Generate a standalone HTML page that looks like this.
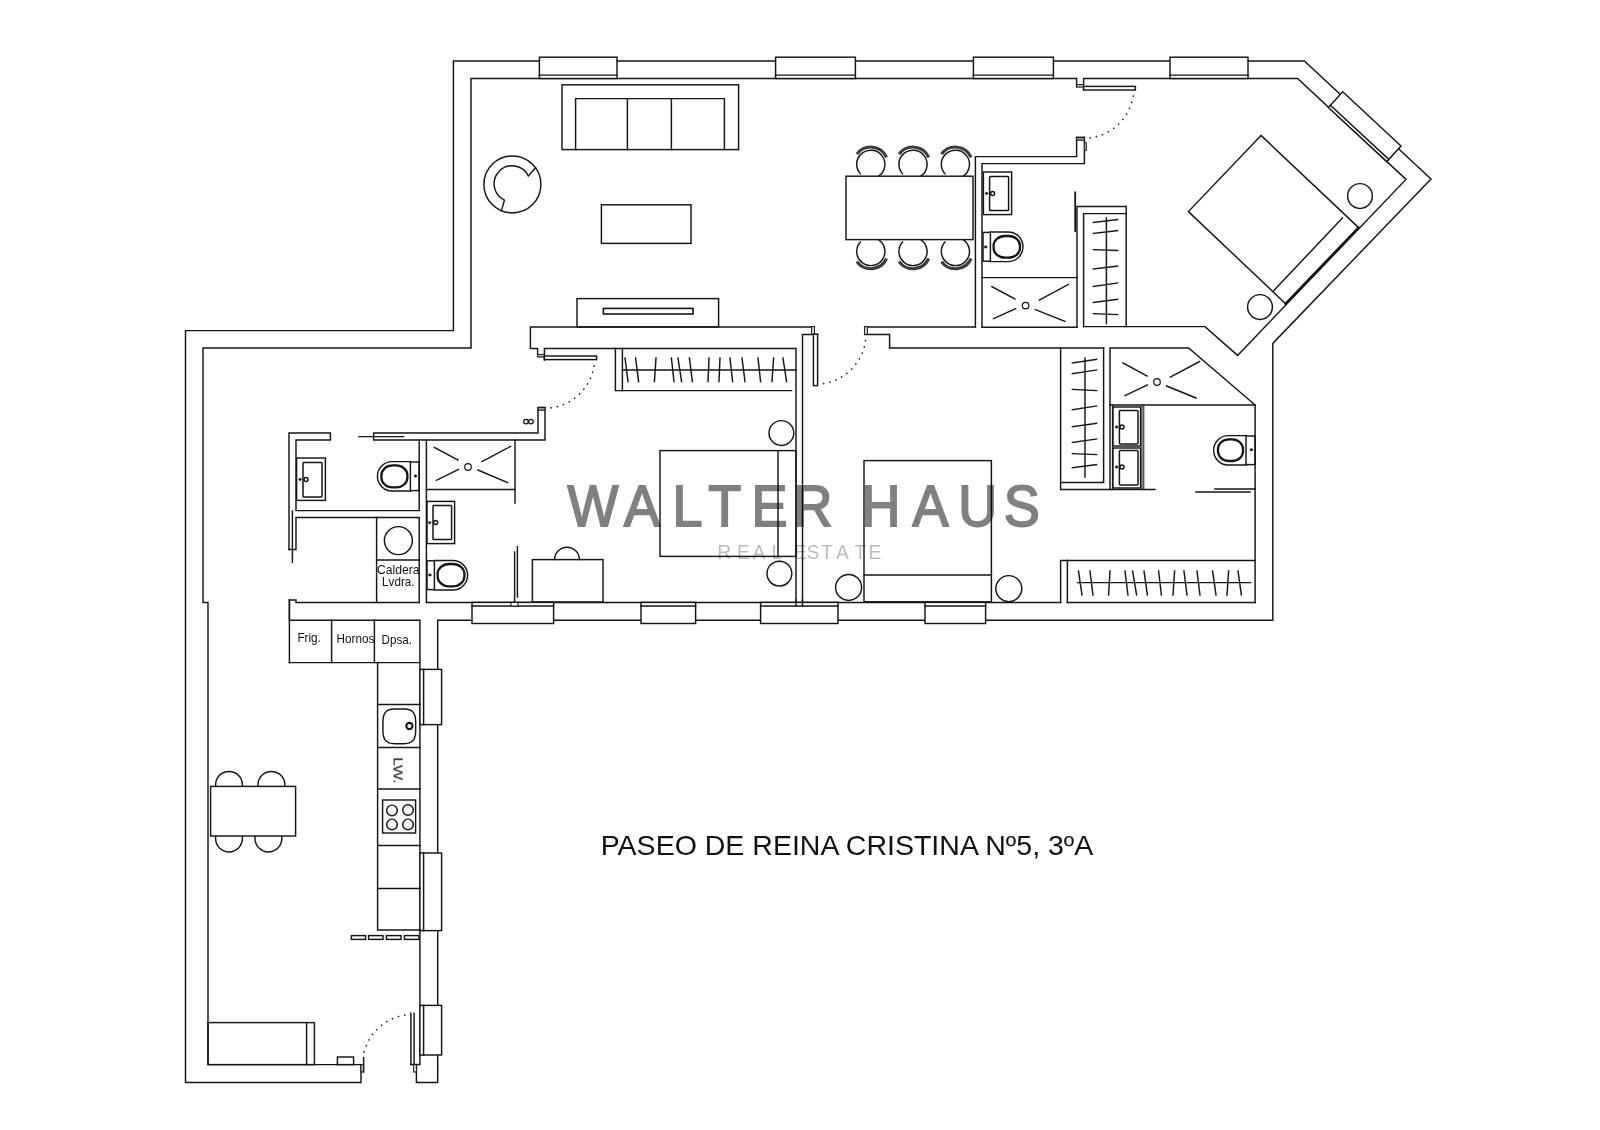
<!DOCTYPE html>
<html lang="es"><head><meta charset="utf-8"><title>Paseo de Reina Cristina Nº5, 3ºA</title>
<style>
html,body{margin:0;padding:0;background:#fff;}
body{width:1600px;height:1130px;overflow:hidden;}
svg{display:block}
svg *{vector-effect:none}
#plan line,#plan path,#plan rect,#plan circle{stroke:#151515;stroke-width:1.45;fill:none;stroke-linecap:square}
#plan [fill]{}
.dots{stroke-dasharray:0.1 6.32;stroke-linecap:round !important;stroke:#2a2a2a !important}
.b{stroke-linecap:butt !important}
.t{opacity:.999;will-change:opacity}
.bb{stroke:#3c3c3c !important}
.t text{font-family:"Liberation Sans",sans-serif;fill:#111;stroke:none}
.wm1{font-family:"Liberation Sans",sans-serif;fill:#000;stroke:#000;stroke-linejoin:miter}
.wm2{font-family:"Liberation Sans",sans-serif;fill:#000}
</style></head><body>
<svg id="plan" width="1600" height="1130" viewBox="0 0 1600 1130">
<rect x="0" y="0" width="1600" height="1130" style="fill:#fff;stroke:none"/>
<g id="walls">
<path d="M361 1064.6 L361 1082.4 L185.5 1082.4 L185.5 330.6 L453.4 330.6 L453.4 61 L1304.4 61 L1431 179 L1272.8 343.4 L1272.8 620.2 L437.7 620.2 L437.7 1082.4 L416.4 1082.4 L416.4 1064.6"/>
<path d="M361 1064.6 L208 1064.6 L208 602.4 L203 602.4 L203 348 L471 348 L471 78.5 L1076.6 78.5 L1076.6 86.4 L1083.6 86.4"/>
<path d="M1083.6 90 L1083.6 78.5 L1297.6 78.5 L1406 179.4 L1237.6 355.4 L1205 326.6 L1083.6 326.6"/>
<path d="M410.9 1064.5 L419.9 1064.5 L419.9 620.2 L289.4 620.2 L289.4 600 L296 600 L296 602.4 L419.2 602.4"/>
<line x1="426.4" y1="602.4" x2="1060.6" y2="602.4"/>
<line x1="1067.4" y1="602.4" x2="1255.1" y2="602.4"/>
</g>
<g id="partitions">
<path d="M1076.6 137.4 L1076.6 156.6 L975.4 156.6 L975.4 327.2"/>
<path d="M1084.4 137.4 L1084.4 163.6 L982 163.6 L982 327.2"/>
<line x1="1076.6" y1="137.4" x2="1084.4" y2="137.4"/>
<rect x="1076.6" y="137.4" width="7.8" height="2.8" style="fill:#999;stroke-width:1;"/>
<rect x="1084.4" y="142.6" width="2.2" height="8.0" style="fill:#aaa;stroke-width:0.8;"/>
<rect x="1076.6" y="84.6" width="7.0" height="2.4" style="fill:#ccc;stroke-width:1;"/>
<rect x="1083.6" y="86.4" width="51.8" height="3.6" style="fill:#fff;"/>
<line x1="864.6" y1="327" x2="975.4" y2="327"/>
<line x1="982" y1="327.2" x2="1077" y2="327.2"/>
<line x1="982" y1="277.6" x2="1077" y2="277.6"/>
<path d="M1077 327.2 L1077 206.4 L1126.2 206.4 L1126.2 326.6"/>
<path d="M1083.6 326.6 L1083.6 213.6 L1126.2 213.6"/>
<line x1="1075.2" y1="192.4" x2="1075.2" y2="231" style="stroke-width:1.8"/>
<path d="M864.6 334.4 L889.6 334.4 L889.6 348 L1103.6 348"/>
<rect x="864.6" y="326.6" width="2.8" height="7.8" style="fill:#ddd;stroke-width:1;"/>
<path d="M1060.6 348 L1060.6 489.4 L1155 489.4"/>
<path d="M1103.6 348 L1103.6 482.4 L1060.6 482.4"/>
<path d="M1110 489.4 L1110 348 L1188.6 348 L1255.1 405 L1255.1 602.4"/>
<line x1="1110" y1="405" x2="1255.1" y2="405"/>
<line x1="1112.4" y1="405" x2="1112.4" y2="489.4" style="stroke-width:1"/>
<line x1="1142" y1="405" x2="1142" y2="489.4" style="stroke-width:1"/>
<line x1="1143.8" y1="405" x2="1143.8" y2="489.4" style="stroke-width:1"/>
<line x1="1196" y1="492" x2="1250" y2="492"/>
<line x1="1215" y1="489" x2="1255.1" y2="489"/>
<path d="M1060.6 602.4 L1060.6 560.4 L1255.1 560.4"/>
<line x1="1067.4" y1="560.4" x2="1067.4" y2="602.4"/>
<path d="M544.4 356.6 L537.6 356.6 L537.6 348.4 L530.4 348.4 L530.4 327 L814.4 327"/>
<path d="M544.4 360 L544.4 348.4 L796 348.4 L796 606"/>
<rect x="537.6" y="354.4" width="6.8" height="2.4" style="fill:#ccc;stroke-width:1;"/>
<rect x="544.4" y="356" width="52.2" height="3.6" style="fill:#fff;"/>
<path d="M817.6 334.4 L802.5 334.4 L802.5 606"/>
<rect x="811.6" y="326.6" width="2.8" height="7.6" style="fill:#ddd;stroke-width:1;"/>
<rect x="813.4" y="334.2" width="4.2" height="51.4" style="fill:#fff;"/>
<path d="M538 407.4 L538 433 L373.6 433 L373.6 440 L545 440 L545 407.4 L538 407.4"/>
<rect x="538" y="407.4" width="7" height="2.8" style="fill:#999;stroke-width:1;"/>
<path d="M289 549.4 L289 433 L330.4 433 L330.4 440 L296 440 L296 510.6 L419.2 510.6 L419.2 440"/>
<path d="M289 549.4 L296 549.4 L296 517.4 L419.2 517.4 L419.2 602.4"/>
<line x1="292.4" y1="511" x2="292.4" y2="562.4"/>
<line x1="426.4" y1="440" x2="426.4" y2="602.4"/>
<line x1="359" y1="436.6" x2="403.6" y2="436.6"/>
<line x1="376.6" y1="517.4" x2="376.6" y2="602.4"/>
<line x1="376.6" y1="560" x2="419.2" y2="560"/>
<circle cx="398.4" cy="540.6" r="14"/>
<path d="M426.4 489.4 L515 489.4"/>
<line x1="515" y1="440" x2="515" y2="503"/>
<circle cx="526" cy="421.6" r="2.3" style="stroke-width:1.3;"/>
<circle cx="530.9" cy="421.6" r="2.3" style="stroke-width:1.3;"/>
<line x1="514.6" y1="552" x2="514.6" y2="602.4"/>
<line x1="517.4" y1="546.6" x2="517.4" y2="597"/>
</g>
<g id="windows">
<rect x="539.4" y="57.2" width="77.6" height="21.3" style="fill:#fff;"/>
<line x1="539.4" y1="75.1" x2="617" y2="75.1"/>
<rect x="775.6" y="57.2" width="79.8" height="21.3" style="fill:#fff;"/>
<line x1="775.6" y1="75.1" x2="855.4" y2="75.1"/>
<rect x="973.4" y="57.2" width="80.0" height="21.3" style="fill:#fff;"/>
<line x1="973.4" y1="75.1" x2="1053.4" y2="75.1"/>
<rect x="1170" y="57.2" width="78" height="21.3" style="fill:#fff;"/>
<line x1="1170" y1="75.1" x2="1248" y2="75.1"/>
<rect x="472" y="602.4" width="81.6" height="21.1" style="fill:#fff;"/>
<line x1="472" y1="605.9" x2="553.6" y2="605.9"/>
<rect x="641" y="602.4" width="54.6" height="21.1" style="fill:#fff;"/>
<line x1="641" y1="605.9" x2="695.6" y2="605.9"/>
<rect x="760.6" y="602.4" width="77.4" height="21.1" style="fill:#fff;"/>
<line x1="760.6" y1="605.9" x2="838" y2="605.9"/>
<rect x="925" y="602.4" width="60.6" height="21.1" style="fill:#fff;"/>
<line x1="925" y1="605.9" x2="985.6" y2="605.9"/>
<rect x="419.9" y="669.4" width="21.7" height="55.2" style="fill:#fff;"/>
<line x1="423.6" y1="669.4" x2="423.6" y2="724.6"/>
<rect x="419.9" y="853" width="21.7" height="77.6" style="fill:#fff;"/>
<line x1="423.6" y1="853" x2="423.6" y2="930.6"/>
<rect x="419.9" y="1005.4" width="21.7" height="49.6" style="fill:#fff;"/>
<line x1="423.6" y1="1005.4" x2="423.6" y2="1055"/>
<path d="M1342.7 91.7 L1401 146 L1386.8 161.6 L1328.4 107.5 Z" style="fill:#fff;"/>
<line x1="1330.4" y1="105.3" x2="1388.8" y2="159.4"/>
</g>
<g>
<line x1="796" y1="600" x2="796" y2="606"/>
<line x1="802.5" y1="600" x2="802.5" y2="606"/>
<rect x="511" y="602.4" width="7" height="3.6" style="fill:#fff;stroke-width:1;"/>
</g>
<g id="fixtures">
<rect x="983.4" y="172" width="28.2" height="42.6"/>
<rect x="989.6" y="176.6" width="19.0" height="34.0" rx="0.9" style="stroke-width:1.5"/>
<circle cx="986.6" cy="193.4" r="1.2" style="fill:#111;stroke-width:0.5;"/>
<circle cx="992.6" cy="193.4" r="2.0" style="stroke-width:1.5;"/>
<rect x="983" y="232.4" width="7.4" height="28.8"/>
<path d="M990.4 232 L1008.2 232 A14.800000000000011 14.800000000000011 0 0 1 1008.2 261.6 L990.4 261.6"/>
<rect x="993.6" y="236" width="26.4" height="21.6" rx="11.35" ry="9.72" style="stroke-width:2.3"/>
<circle cx="985.6" cy="247" r="1.25" style="fill:#111;stroke-width:0.5;"/>
<circle cx="1025.6" cy="305.6" r="3.3" style="stroke-width:1.2;"/>
<line x1="992" y1="286.6" x2="1015" y2="299"/>
<line x1="1068.4" y1="284.4" x2="1039.4" y2="300"/>
<line x1="993.6" y1="318.6" x2="1015.6" y2="308.6"/>
<line x1="1065" y1="321.4" x2="1035.4" y2="309.6"/>
<circle cx="1157" cy="382" r="3.3" style="stroke-width:1.2;"/>
<line x1="1123" y1="363" x2="1147" y2="376"/>
<line x1="1199.6" y1="361.6" x2="1170.4" y2="377"/>
<line x1="1125" y1="395.6" x2="1147.4" y2="385"/>
<line x1="1196" y1="398" x2="1166.6" y2="386"/>
<rect x="1113" y="407" width="27.6" height="39"/>
<rect x="1119.4" y="410.6" width="18.6" height="33.4" rx="0.9" style="stroke-width:1.5"/>
<circle cx="1116.6" cy="427" r="1.2" style="fill:#111;stroke-width:0.5;"/>
<circle cx="1122" cy="427" r="2.0" style="stroke-width:1.5;"/>
<rect x="1113" y="448" width="27.6" height="40"/>
<rect x="1119.4" y="450.6" width="18.6" height="34.4" rx="0.9" style="stroke-width:1.5"/>
<circle cx="1116.6" cy="467" r="1.2" style="fill:#111;stroke-width:0.5;"/>
<circle cx="1122" cy="467" r="2.0" style="stroke-width:1.5;"/>
<rect x="1246" y="436.0" width="9.1" height="28.6"/>
<path d="M1246 435.6 L1228.3 435.6 A14.699999999999989 14.699999999999989 0 0 0 1228.3 465 L1246 465"/>
<rect x="1218" y="439.4" width="25" height="21.6" rx="10.75" ry="9.72" style="stroke-width:2.3"/>
<circle cx="1251.4" cy="449.8" r="1.25" style="fill:#111;stroke-width:0.5;"/>
<rect x="296.6" y="458" width="28.8" height="42.4"/>
<rect x="303" y="462.4" width="19" height="34.6" rx="0.9" style="stroke-width:1.5"/>
<circle cx="300" cy="479.4" r="1.2" style="fill:#111;stroke-width:0.5;"/>
<circle cx="306" cy="479.4" r="2.0" style="stroke-width:1.5;"/>
<rect x="410.4" y="462.0" width="8.8" height="28.6"/>
<path d="M410.4 461.6 L392.09999999999997 461.6 A14.699999999999989 14.699999999999989 0 0 0 392.09999999999997 491 L410.4 491"/>
<rect x="381.4" y="465.4" width="26.0" height="22.0" rx="11.18" ry="9.9" style="stroke-width:2.3"/>
<circle cx="415.4" cy="476" r="1.25" style="fill:#111;stroke-width:0.5;"/>
<circle cx="468" cy="467" r="3.3" style="stroke-width:1.2;"/>
<line x1="434.4" y1="447.4" x2="458" y2="460"/>
<line x1="510.6" y1="446.4" x2="482" y2="461.6"/>
<line x1="436.4" y1="480.4" x2="458.4" y2="469.4"/>
<line x1="507.6" y1="482.6" x2="478" y2="470"/>
<rect x="427" y="501.4" width="27.6" height="42.2"/>
<rect x="433" y="505.6" width="18.6" height="34.0" rx="0.9" style="stroke-width:1.5"/>
<circle cx="429.6" cy="522.6" r="1.2" style="fill:#111;stroke-width:0.5;"/>
<circle cx="435.6" cy="522.6" r="2.0" style="stroke-width:1.5;"/>
<rect x="427" y="560.8" width="7.4" height="28.8"/>
<path d="M434.4 560.4 L452.8 560.4 A14.800000000000011 14.800000000000011 0 0 1 452.8 590 L434.4 590"/>
<rect x="437.6" y="564" width="26.8" height="22.4" rx="11.52" ry="10.08" style="stroke-width:2.3"/>
<circle cx="429.8" cy="575" r="1.25" style="fill:#111;stroke-width:0.5;"/>
</g>
<g id="closets">
<line x1="1106.4" y1="218" x2="1106.4" y2="323.6"/>
<line x1="1093.4" y1="222.4" x2="1117.6" y2="219.6"/>
<line x1="1093.4" y1="233.4" x2="1117.6" y2="230.6"/>
<line x1="1093.4" y1="249.6" x2="1117.6" y2="250.4"/>
<line x1="1093.4" y1="269" x2="1117.6" y2="266"/>
<line x1="1093.4" y1="286.4" x2="1117.6" y2="283"/>
<line x1="1093.4" y1="302.4" x2="1117.6" y2="299.4"/>
<line x1="1093.4" y1="313.6" x2="1117.6" y2="314.6"/>
<line x1="1085" y1="358" x2="1085" y2="477"/>
<line x1="1072.4" y1="363" x2="1096.6" y2="359.4"/>
<line x1="1072.4" y1="373.6" x2="1096.6" y2="370"/>
<line x1="1072.4" y1="389.4" x2="1096.6" y2="390.6"/>
<line x1="1072.4" y1="409.6" x2="1096.6" y2="406"/>
<line x1="1072.4" y1="426.6" x2="1096.6" y2="423.4"/>
<line x1="1072.4" y1="442.4" x2="1096.6" y2="439"/>
<line x1="1072.4" y1="453.6" x2="1096.6" y2="454.6"/>
<line x1="1072.4" y1="467.6" x2="1096.6" y2="464.6"/>
<path d="M615.4 348.4 L615.4 390.6 L791.6 390.6"/>
<line x1="622.4" y1="348.4" x2="622.4" y2="390.6"/>
<line x1="622.4" y1="370" x2="796" y2="370"/>
<line x1="625" y1="358" x2="628" y2="381.6"/>
<line x1="635.6" y1="358" x2="638.6" y2="381.6"/>
<line x1="656" y1="358" x2="654.4" y2="381.6"/>
<line x1="671.4" y1="358" x2="674" y2="381.6"/>
<line x1="678" y1="358" x2="681.6" y2="381.6"/>
<line x1="689.4" y1="358" x2="692.4" y2="381.6"/>
<line x1="709" y1="358" x2="708" y2="381.6"/>
<line x1="720" y1="358" x2="719" y2="381.6"/>
<line x1="730" y1="358" x2="732.6" y2="381.6"/>
<line x1="742" y1="358" x2="745" y2="381.6"/>
<line x1="758" y1="358" x2="760.6" y2="381.6"/>
<line x1="773.6" y1="358" x2="772" y2="381.6"/>
<line x1="783" y1="358" x2="786.6" y2="381.6"/>
<line x1="1077.6" y1="582.6" x2="1250.6" y2="582.6"/>
<line x1="1078.5" y1="571" x2="1082" y2="595"/>
<line x1="1090" y1="571" x2="1093" y2="595"/>
<line x1="1110" y1="571" x2="1108.6" y2="595"/>
<line x1="1125" y1="571" x2="1128" y2="595"/>
<line x1="1132.6" y1="571" x2="1136.6" y2="595"/>
<line x1="1144" y1="571" x2="1147.4" y2="595"/>
<line x1="1158.6" y1="571" x2="1161.4" y2="595"/>
<line x1="1174.6" y1="571" x2="1173" y2="595"/>
<line x1="1184" y1="571" x2="1187" y2="595"/>
<line x1="1197" y1="571" x2="1200" y2="595"/>
<line x1="1212.6" y1="571" x2="1216" y2="595"/>
<line x1="1228.6" y1="571" x2="1227" y2="595"/>
<line x1="1238" y1="571" x2="1241.4" y2="595"/>
</g>
<g id="furniture">
<rect x="562" y="84.8" width="176.6" height="64.8"/>
<path d="M575.6 149.6 L575.6 98.6 L724.4 98.6 L724.4 149.6"/>
<line x1="627.4" y1="98.6" x2="627.4" y2="149.6"/>
<line x1="671.4" y1="98.6" x2="671.4" y2="149.6"/>
<circle cx="512.4" cy="184.4" r="28.5"/>
<path d="M535.6 167.85 L528.29 175.95 A18 18 0 1 0 504.41 200.08 L501.45 210.71"/>
<rect x="601.4" y="204.8" width="89.6" height="38.6"/>
<rect x="577" y="298.6" width="141.6" height="28.4"/>
<rect x="603.4" y="308.4" width="89.6" height="5.6" style="stroke-width:1.6;"/>
<path d="M860.83 174.27 A14.1 14.1 0 1 1 878.48 176.13" class="b"/>
<path d="M856.88 154.19 A17.2 17.2 0 0 1 886.51 157.3" style="stroke-width:3.1;" class="b bb"/>
<path d="M878.48 239.67 A14.1 14.1 0 1 1 860.83 241.53" class="b"/>
<path d="M886.51 258.5 A17.2 17.2 0 0 1 856.88 261.61" style="stroke-width:3.1;" class="b bb"/>
<path d="M903.03 174.27 A14.1 14.1 0 1 1 920.68 176.13" class="b"/>
<path d="M899.08 154.19 A17.2 17.2 0 0 1 928.71 157.3" style="stroke-width:3.1;" class="b bb"/>
<path d="M920.68 239.67 A14.1 14.1 0 1 1 903.03 241.53" class="b"/>
<path d="M928.71 258.5 A17.2 17.2 0 0 1 899.08 261.61" style="stroke-width:3.1;" class="b bb"/>
<path d="M945.43 174.27 A14.1 14.1 0 1 1 963.08 176.13" class="b"/>
<path d="M941.48 154.19 A17.2 17.2 0 0 1 971.11 157.3" style="stroke-width:3.1;" class="b bb"/>
<path d="M963.08 239.67 A14.1 14.1 0 1 1 945.43 241.53" class="b"/>
<path d="M971.11 258.5 A17.2 17.2 0 0 1 941.48 261.61" style="stroke-width:3.1;" class="b bb"/>
<rect x="846" y="176.2" width="127" height="63.4" style="fill:#fff;"/>
<path d="M1261 135.4 L1358.6 227.6 L1285.6 303.7 L1188.4 211.6 Z"/>
<line x1="1342.4" y1="218" x2="1273.4" y2="291"/>
<line x1="1358.6" y1="227.6" x2="1285.6" y2="303.7" style="stroke-width:2.4"/>
<circle cx="1360" cy="196" r="12.4"/>
<circle cx="1260" cy="307" r="12.4"/>
<rect x="660" y="450.6" width="136" height="105.8"/>
<line x1="778" y1="450.6" x2="778" y2="556.4"/>
<circle cx="781.4" cy="433" r="12.4"/>
<circle cx="779.4" cy="573.6" r="12.4"/>
<rect x="864" y="460.6" width="127.4" height="141.2"/>
<line x1="864" y1="575" x2="991.4" y2="575"/>
<circle cx="848.6" cy="587.4" r="13"/>
<circle cx="1008.8" cy="588.6" r="13"/>
<path d="M554.6 559.6 A12.4 12.4 0 0 1 579.4 559.6"/>
<rect x="532.4" y="559.6" width="70.6" height="42.4"/>
<path d="M215.6 786.4 L215.6 784.8 A13.4 13.4 0 0 1 242.4 784.8 L242.4 786.4"/>
<path d="M258.0 786.4 L258.0 784.8 A13.4 13.4 0 0 1 284.79999999999995 784.8 L284.79999999999995 786.4"/>
<path d="M215.6 836 L215.6 838.6 A13.4 13.4 0 0 0 242.4 838.6 L242.4 836"/>
<path d="M254.99999999999997 836 L254.99999999999997 838.6 A13.4 13.4 0 0 0 281.79999999999995 838.6 L281.79999999999995 836"/>
<rect x="210.6" y="786.4" width="85.0" height="49.6" style="fill:#fff;"/>
<rect x="208" y="1022.6" width="106.4" height="42.0"/>
<line x1="306.6" y1="1022.6" x2="306.6" y2="1064.6"/>
<rect x="337.4" y="1057" width="16.2" height="7.6"/>
</g>
<g id="kitchen">
<line x1="289.4" y1="600" x2="289.4" y2="662.6"/>
<path d="M289.4 662.6 L419.9 662.6"/>
<line x1="331.6" y1="620" x2="331.6" y2="662.6"/>
<line x1="374.4" y1="620" x2="374.4" y2="662.6"/>
<path d="M377.6 662.6 L377.6 930 L420 930"/>
<line x1="377.6" y1="704.4" x2="420" y2="704.4"/>
<line x1="377.6" y1="747.4" x2="420" y2="747.4"/>
<line x1="377.6" y1="789" x2="420" y2="789"/>
<line x1="377.6" y1="845.4" x2="420" y2="845.4"/>
<line x1="377.6" y1="888.4" x2="420" y2="888.4"/>
<path d="M415.7 726.3 L415.67 730.79 L415.56 732.88 L415.39 734.51 L415.14 735.89 L414.83 737.08 L414.44 738.14 L413.98 739.08 L413.44 739.91 L412.83 740.65 L412.13 741.31 L411.34 741.87 L410.46 742.36 L409.46 742.77 L408.34 743.11 L407.04 743.37 L405.5 743.55 L403.53 743.66 L399.3 743.7 L395.07 743.66 L393.1 743.55 L391.56 743.37 L390.26 743.11 L389.14 742.77 L388.14 742.36 L387.26 741.87 L386.47 741.31 L385.77 740.65 L385.16 739.91 L384.62 739.08 L384.16 738.14 L383.77 737.08 L383.46 735.89 L383.21 734.51 L383.04 732.88 L382.93 730.79 L382.9 726.3 L382.93 721.81 L383.04 719.72 L383.21 718.09 L383.46 716.71 L383.77 715.52 L384.16 714.46 L384.62 713.52 L385.16 712.69 L385.77 711.95 L386.47 711.29 L387.26 710.73 L388.14 710.24 L389.14 709.83 L390.26 709.49 L391.56 709.23 L393.1 709.05 L395.07 708.94 L399.3 708.9 L403.53 708.94 L405.5 709.05 L407.04 709.23 L408.34 709.49 L409.46 709.83 L410.46 710.24 L411.34 710.73 L412.13 711.29 L412.83 711.95 L413.44 712.69 L413.98 713.52 L414.44 714.46 L414.83 715.52 L415.14 716.71 L415.39 718.09 L415.56 719.72 L415.67 721.81 Z"/>
<circle cx="409.4" cy="726" r="3.1" style="stroke-width:2.1;"/>
<rect x="382.6" y="800" width="33.0" height="33"/>
<circle cx="392" cy="810.4" r="5.3"/>
<circle cx="408" cy="810" r="5.3"/>
<circle cx="392" cy="824.4" r="5.3"/>
<circle cx="408" cy="824.4" r="5.3"/>
<rect x="351.4" y="935.6" width="14.2" height="3.8"/>
<rect x="368.6" y="935.6" width="14.4" height="3.8"/>
<rect x="386.4" y="935.6" width="14.6" height="3.8"/>
<rect x="404.4" y="935.6" width="14.6" height="3.8"/>
</g>
<g id="doors">
<path d="M1133.24 96.13 A50.3 50.3 0 0 1 1089.73 137.93" style="stroke-width:1.7;" class="dots"/>
<path d="M594.07 365.96 A50.3 50.3 0 0 1 550.53 407.93" style="stroke-width:1.7;" class="dots"/>
<path d="M865.47 340.57 A50.3 50.3 0 0 1 822.6 383.81" style="stroke-width:1.7;" class="dots"/>
<path d="M364.14 1051.81 A50 50 0 0 1 405.54 1014.99" style="stroke-width:1.7;" class="dots"/>
<line x1="410.9" y1="1013.1" x2="410.9" y2="1064.5"/>
<line x1="414.1" y1="1013.1" x2="414.1" y2="1064.5"/>
<rect x="413.6" y="1064.6" width="2.8" height="7.4" style="fill:#ddd;stroke-width:1;"/>
<rect x="361" y="1064.6" width="2.6" height="7.4" style="fill:#ddd;stroke-width:1;"/>
<line x1="363.6" y1="1057.6" x2="363.6" y2="1072"/>
</g>
<g id="labels" class="t">
<text x="398.3" y="574" font-size="12.4" text-anchor="middle" textLength="42.4" lengthAdjust="spacingAndGlyphs">Caldera</text>
<text x="398.3" y="586" font-size="12.4" text-anchor="middle" textLength="32.4" lengthAdjust="spacingAndGlyphs">Lvdra.</text>
<text x="297.4" y="641.6" font-size="12.6" textLength="23.4" lengthAdjust="spacingAndGlyphs">Frig.</text>
<text x="336.6" y="643" font-size="12.6" textLength="37.8" lengthAdjust="spacingAndGlyphs">Hornos</text>
<text x="381.6" y="644" font-size="12.6" textLength="30.4" lengthAdjust="spacingAndGlyphs">Dpsa.</text>
<text transform="translate(393.6,757.2) rotate(90)" font-size="12.9" textLength="26.6" lengthAdjust="spacingAndGlyphs">LW.</text>
<text x="600.7" y="854.8" font-size="27.6" textLength="492.6" lengthAdjust="spacingAndGlyphs">PASEO DE REINA CRISTINA Nº5, 3ºA</text>
</g>
<g id="wm">
<g style="opacity:.5;will-change:opacity">
<text class="wm1" transform="scale(0.95,1)" x="597.27 656.85 707.92 745.51 791.11 835.16 863.56 906.74 960.58 1008.6 1056.54" y="526.5" font-size="56.8" style="stroke-width:1.9">WALTER HAUS</text>
</g>
<g style="opacity:.27;will-change:opacity">
<text class="wm2" x="717.17 737.02 752.56 771.42 783.0 794.02 806.62 821.07 835.96 854.57 868.42" y="558.6" font-size="19.3">REAL ESTATE</text>
</g>
</g>
</svg>
</body></html>
